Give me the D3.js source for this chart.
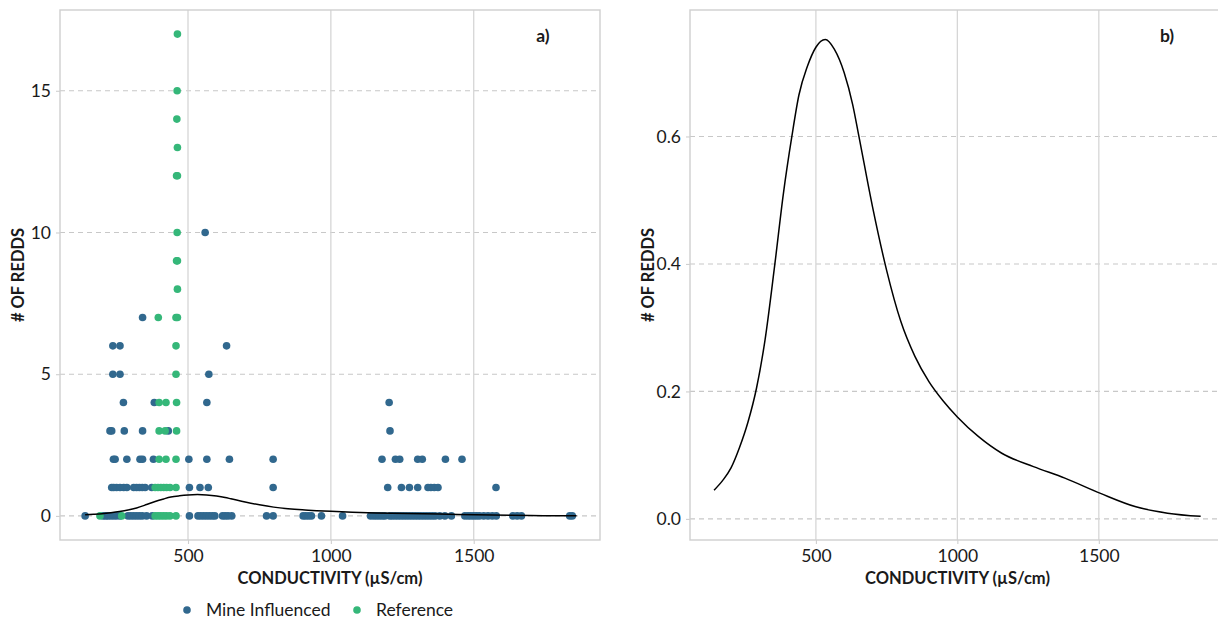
<!DOCTYPE html>
<html>
<head>
<meta charset="utf-8">
<script src="https://cdn.jsdelivr.net/npm/d3@7"></script>
<style>
  html, body { margin: 0; padding: 0; background: #ffffff; }
  svg { display: block; font-family: Lato, "Open Sans", sans-serif; }
</style>
</head>
<body>
<svg id="chart" width="1218" height="621"></svg>
<script>
// ---------------- DATA ----------------
const seriesNames = ["Mine Influenced", "Reference"];
const seriesColors = ["#31688e", "#35b779"];

// Mine Influenced sites: conductivity (µS/cm) and # of redds
const mineX = [
  560,
  341,
  237, 262, 635,
  237, 262, 573,
  274, 382, 566, 1204,
  227, 233, 277, 341, 431, 1207,
  239, 245, 286, 332, 341, 379, 503, 566, 645, 798, 1179, 1226, 1241, 1304, 1320, 1401, 1459,
  233, 240, 250, 262, 275, 286, 310, 320, 330, 340, 350, 373, 505, 542, 571, 798, 1199, 1247, 1275, 1304, 1340, 1350, 1362, 1375, 1578,
  140, 203, 212, 220, 230, 240, 250, 262, 290, 300, 310, 320, 330, 340, 355, 375, 505, 535, 545, 555, 565, 575, 585, 594, 621, 630, 640, 653, 775, 798, 903, 912, 922, 932, 967, 1041, 1139, 1150, 1160, 1170, 1180, 1189, 1206, 1215, 1225, 1235, 1245, 1255, 1265, 1275, 1285, 1295, 1305, 1315, 1325, 1335, 1345, 1355, 1365, 1381, 1399, 1422, 1469, 1480, 1490, 1500, 1510, 1520, 1535, 1550, 1565, 1579, 1637, 1652, 1667, 1836, 1845, 1855, 1865
];
const mineY = [
  10,
  7,
  6, 6, 6,
  5, 5, 5,
  4, 4, 4, 4,
  3, 3, 3, 3, 3, 3,
  2, 2, 2, 2, 2, 2, 2, 2, 2, 2, 2, 2, 2, 2, 2, 2, 2,
  1, 1, 1, 1, 1, 1, 1, 1, 1, 1, 1, 1, 1, 1, 1, 1, 1, 1, 1, 1, 1, 1, 1, 1, 1,
  0, 0, 0, 0, 0, 0, 0, 0, 0, 0, 0, 0, 0, 0, 0, 0, 0, 0, 0, 0, 0, 0, 0, 0, 0, 0, 0, 0, 0, 0, 0, 0, 0, 0, 0, 0, 0, 0, 0, 0, 0, 0, 0, 0, 0, 0, 0, 0, 0, 0, 0, 0, 0, 0, 0, 0, 0, 0, 0, 0, 0, 0, 0, 0, 0, 0, 0, 0, 0, 0, 0, 0, 0, 0, 0, 0, 0
];

// Reference sites
const refX = [
  463, 462, 461, 463, 460, 463, 462, 460, 463, 463,
  396, 458, 463,
  458, 458,
  399, 423, 460,
  399, 420, 460,
  399, 423, 458,
  385, 395, 405, 415, 425, 437, 458,
  192, 268, 385, 395, 405, 415, 425, 437, 458
];
const refY = [
  17, 15, 14, 13, 12, 12, 10, 9, 9, 8,
  7, 7, 7,
  6, 5,
  4, 4, 4,
  3, 3, 3,
  2, 2, 2,
  1, 1, 1, 1, 1, 1, 1,
  0, 0, 0, 0, 0, 0, 0, 0, 0
];

// Density curve of conductivity (also overlaid in panel a)
const densX = [140, 170, 200, 230, 260, 290, 320, 355, 385, 415, 440, 470, 500, 533, 565, 600, 630, 650, 700, 750, 800, 850, 900, 950, 1000, 1075, 1157, 1269, 1380, 1506, 1631, 1743, 1860];
const densY = [0.045, 0.060, 0.080, 0.112, 0.152, 0.205, 0.28, 0.40, 0.51, 0.60, 0.665, 0.71, 0.74, 0.752, 0.737, 0.70, 0.65, 0.605, 0.49, 0.39, 0.31, 0.255, 0.215, 0.185, 0.16, 0.129, 0.103, 0.082, 0.064, 0.040, 0.019, 0.009, 0.004];

// Tick labels
const xTicks = [500, 1000, 1500];
const yTicksA = [0, 5, 10, 15];
const yTicksB = [0, 0.2, 0.4, 0.6];

const xTitle = "CONDUCTIVITY (µS/cm)";
const yTitle = "# OF REDDS";
const panelLabels = ["a)", "b)"];

// ---------------- DRAW ----------------
const svg = d3.select("#chart");
const borderCol = "#cfcfcf";
const gridCol = "#d6d6d6";
const dashCol = "#c8c8c8";
const textCol = "#1a1a1a";
const tickFont = "17.5px";

const mineData = mineX.map((x, i) => ({x, y: mineY[i]}));
const refData = refX.map((x, i) => ({x, y: refY[i]}));
const densData = densX.map((x, i) => ({x, y: densY[i]}));

function drawPanel(opts) {
  const {left, right, top, bottom, xDomain, yDomain, yTicks, yFmt, label, labelX} = opts;
  const x = d3.scaleLinear().domain(xDomain).range([left, right]);
  const y = d3.scaleLinear().domain(yDomain).range([bottom, top]);
  const g = svg.append("g");

  const clipId = "clip" + label.replace(/\W/g, "");
  svg.append("clipPath").attr("id", clipId)
    .append("rect").attr("x", left).attr("y", top).attr("width", right - left).attr("height", bottom - top);

  // horizontal dashed grid
  g.append("g").selectAll("line").data(yTicks).join("line")
    .attr("x1", left).attr("x2", right)
    .attr("y1", d => y(d)).attr("y2", d => y(d))
    .attr("stroke", dashCol).attr("stroke-width", 1.1).attr("stroke-dasharray", "5,4");
  // vertical solid grid
  g.append("g").selectAll("line").data(xTicks).join("line")
    .attr("y1", top).attr("y2", bottom)
    .attr("x1", d => x(d)).attr("x2", d => x(d))
    .attr("stroke", gridCol).attr("stroke-width", 1.3);

  // axes (labels with small ticks)
  const xAxis = d3.axisBottom(x).tickValues(xTicks).tickSize(4).tickPadding(6).tickFormat(d3.format("d"));
  const gx = g.append("g").attr("transform", `translate(0,${bottom})`).call(xAxis);
  const yAxis = d3.axisLeft(y).tickValues(yTicks).tickSize(4).tickPadding(5).tickFormat(yFmt);
  const gy = g.append("g").attr("transform", `translate(${left},0)`).call(yAxis);
  [gx, gy].forEach(a => {
    a.select(".domain").remove();
    a.selectAll(".tick line").attr("stroke", borderCol).attr("stroke-width", 1.1);
    a.selectAll(".tick text").attr("fill", textCol).style("font-size", tickFont).style("font-family", "Lato, 'Open Sans', sans-serif");
  });

  // panel border
  g.append("rect").attr("x", left).attr("y", top).attr("width", right - left).attr("height", bottom - top)
    .attr("fill", "none").attr("stroke", borderCol).attr("stroke-width", 1.4);

  // titles
  g.append("text").attr("x", (left + Math.min(right, 1225)) / 2).attr("y", 584)
    .attr("text-anchor", "middle").attr("fill", textCol)
    .style("font-size", "16.5px").style("font-weight", "bold").text(xTitle);
  g.append("text").attr("transform", `translate(${left - 36},${(top + bottom) / 2}) rotate(-90)`)
    .attr("text-anchor", "middle").attr("fill", textCol)
    .style("font-size", "16.5px").style("font-weight", "bold").text(yTitle);
  g.append("text").attr("x", labelX).attr("y", 42).attr("text-anchor", "middle")
    .attr("fill", textCol).style("font-size", "17.5px").style("font-weight", "bold").text(label);

  return {g, x, y, clipId};
}

// Panel a
const pa = drawPanel({
  left: 60, right: 600, top: 10, bottom: 540,
  xDomain: [52, 1942], yDomain: [-0.85, 17.85],
  yTicks: yTicksA, yFmt: d3.format("d"), label: panelLabels[0], labelX: 543
});
const ptsA = pa.g.append("g").attr("clip-path", `url(#${pa.clipId})`);
ptsA.selectAll("circle.mine").data(mineData).join("circle")
  .attr("class", "mine").attr("cx", d => pa.x(d.x)).attr("cy", d => pa.y(d.y))
  .attr("r", 3.8).attr("fill", seriesColors[0]);
ptsA.selectAll("circle.ref").data(refData).join("circle")
  .attr("class", "ref").attr("cx", d => pa.x(d.x)).attr("cy", d => pa.y(d.y))
  .attr("r", 3.8).attr("fill", seriesColors[1]);
const lineA = d3.line().x(d => pa.x(d.x)).y(d => pa.y(d.y)).curve(d3.curveMonotoneX);
ptsA.append("path").datum(densData).attr("d", lineA)
  .attr("fill", "none").attr("stroke", "#000").attr("stroke-width", 1.5);

// Panel b
const pb = drawPanel({
  left: 690, right: 1225, top: 10, bottom: 540,
  xDomain: [55, 1946], yDomain: [-0.0331, 0.7984],
  yTicks: yTicksB, yFmt: d3.format(".1f"), label: panelLabels[1], labelX: 1167
});
const lineB = d3.line().x(d => pb.x(d.x)).y(d => pb.y(d.y)).curve(d3.curveMonotoneX);
pb.g.append("path").datum(densData).attr("d", lineB)
  .attr("fill", "none").attr("stroke", "#000").attr("stroke-width", 1.5);

// Legend
const legend = svg.append("g");
const legendItems = [{name: seriesNames[0], color: seriesColors[0], x: 187}, {name: seriesNames[1], color: seriesColors[1], x: 357}];
legend.selectAll("circle").data(legendItems).join("circle")
  .attr("cx", d => d.x).attr("cy", 610).attr("r", 3.8).attr("fill", d => d.color);
legend.selectAll("text").data(legendItems).join("text")
  .attr("x", d => d.x + 19).attr("y", 616).attr("fill", textCol)
  .style("font-size", tickFont).text(d => d.name);
</script>
</body>
</html>
